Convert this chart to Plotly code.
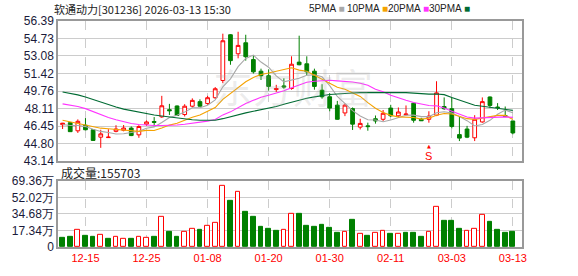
import plotly.graph_objects as go

# ---------------- data ----------------
dates = [
    "2025-12-10", "2025-12-11", "2025-12-12", "2025-12-15", "2025-12-16", "2025-12-17", "2025-12-18", "2025-12-19",
    "2025-12-22", "2025-12-23", "2025-12-24", "2025-12-25", "2025-12-26", "2025-12-29", "2025-12-30", "2025-12-31",
    "2026-01-05", "2026-01-06", "2026-01-07", "2026-01-08", "2026-01-09", "2026-01-12", "2026-01-13", "2026-01-14",
    "2026-01-15", "2026-01-16", "2026-01-19", "2026-01-20", "2026-01-21", "2026-01-22", "2026-01-23", "2026-01-26",
    "2026-01-27", "2026-01-28", "2026-01-29", "2026-01-30", "2026-02-02", "2026-02-03", "2026-02-04", "2026-02-05",
    "2026-02-06", "2026-02-09", "2026-02-10", "2026-02-11", "2026-02-12", "2026-02-13", "2026-02-24", "2026-02-25",
    "2026-02-26", "2026-02-27", "2026-03-02", "2026-03-03", "2026-03-04", "2026-03-05", "2026-03-06", "2026-03-09",
    "2026-03-10", "2026-03-11", "2026-03-12", "2026-03-13",
]
open_ = [46.58, 46.77, 46.00, 46.53, 46.10, 45.40, 45.36, 45.95, 46.05, 46.26, 45.62, 46.63, 46.88, 47.32, 48.00,
         48.35, 47.54, 48.33, 48.76, 48.58, 49.13, 50.76, 55.09, 53.29, 54.33, 52.74, 51.64, 51.21, 49.90, 50.25,
         50.00, 52.50, 52.34, 51.64, 49.84, 49.22, 48.43, 47.69, 48.10, 46.35, 46.47, 47.14, 47.09, 48.15, 47.42,
         47.52, 48.61, 47.10, 47.09, 47.48, 48.30, 48.09, 45.64, 46.17, 45.34, 46.84, 49.20, 48.25, 47.45, 46.93]
high = [46.75, 46.80, 47.08, 47.20, 46.15, 46.10, 46.15, 46.53, 46.55, 46.41, 46.53, 46.99, 47.30, 49.31, 48.55,
        48.40, 48.52, 49.07, 48.98, 49.31, 50.14, 55.19, 55.15, 55.37, 55.09, 53.17, 51.88, 51.82, 50.35, 50.97,
        53.05, 55.00, 53.05, 51.88, 50.41, 49.56, 48.83, 48.58, 48.21, 47.14, 46.77, 47.45, 47.97, 48.46, 48.21,
        48.40, 48.65, 47.23, 47.85, 50.69, 49.16, 49.16, 47.32, 46.47, 47.48, 49.16, 49.25, 48.62, 48.30, 46.95]
low = [46.17, 45.90, 45.80, 46.05, 45.05, 44.39, 45.34, 45.86, 45.95, 45.50, 45.34, 46.47, 46.41, 47.23, 47.50,
       47.40, 47.36, 48.21, 48.30, 48.46, 49.01, 50.51, 52.25, 52.86, 52.64, 51.42, 50.81, 49.80, 49.68, 49.98,
       49.89, 52.20, 51.27, 49.89, 49.04, 47.85, 47.05, 47.39, 46.08, 46.13, 46.01, 46.68, 46.93, 47.30, 47.23,
       47.45, 46.77, 46.93, 46.77, 47.39, 47.98, 46.22, 45.03, 45.31, 45.03, 46.77, 48.15, 47.97, 47.30, 45.67]
close = [46.72, 45.92, 46.90, 46.10, 45.09, 45.71, 45.40, 46.17, 46.26, 45.55, 46.41, 46.84, 46.80, 48.37, 47.90,
         47.45, 48.33, 48.88, 48.33, 49.13, 49.98, 54.52, 52.64, 54.08, 53.01, 51.58, 51.21, 50.20, 50.00, 50.15,
         52.30, 52.25, 51.58, 50.20, 49.22, 48.15, 47.09, 48.43, 46.63, 46.70, 46.40, 46.93, 47.66, 47.42, 47.78,
         47.58, 47.00, 46.95, 47.39, 49.59, 48.09, 46.41, 45.31, 45.40, 47.09, 48.76, 48.40, 48.20, 47.35, 45.80]
prev_close_before = 46.90
# volume in 万 (10k lots)
volume = [10.1, 11.1, 17.8, 12.1, 11.1, 12.8, 8.1, 10.8, 8.7, 8.1, 10.8, 10.1, 11.1, 31.9, 16.1, 11.1, 16.1, 18.8,
          18.5, 21.8, 24.9, 64.2, 48.4, 58.1, 37.3, 31.2, 21.2, 19.2, 17.1, 17.8, 34.3, 34.3, 22.2, 21.2, 23.2, 20.2,
          15.1, 16.1, 28.6, 13.8, 12.1, 14.8, 17.1, 14.1, 13.8, 15.1, 15.1, 11.1, 16.1, 42.0, 27.6, 27.6, 19.5, 17.1,
          19.2, 33.9, 26.5, 17.5, 15.1, 15.5703]

# moving-average values at the start of the window (history not shown)
ma5_head = [46.60, 46.50, 46.50, 46.40]
ma10_head = [47.00, 46.85, 46.70, 46.50, 46.35, 46.25, 46.20, 46.15, 46.10]
ma20_head = [48.55, 48.45, 48.30, 48.10, 47.80, 47.50, 47.25, 47.05, 46.85, 46.70, 46.60, 46.52, 46.50, 46.50,
             46.50, 46.55, 46.62, 46.70, 46.80]
ma30_head = [49.68, 49.55, 49.40, 49.20, 48.95, 48.70, 48.45, 48.25, 48.05, 47.90, 47.75, 47.60, 47.50, 47.40,
             47.30, 47.20, 47.10, 47.05, 47.00, 47.00, 47.00, 47.15, 47.35, 47.55, 47.70, 47.85, 48.00, 48.15, 48.30]

price_ticks = [43.14, 44.80, 46.45, 48.11, 49.76, 51.42, 53.08, 54.73, 56.39]
vol_ticks = [0, 17.34, 34.68, 52.02, 69.36]
label_dates = ["2025-12-15", "2025-12-25", "2026-01-08", "2026-01-20", "2026-01-30", "2026-02-11", "2026-03-03", "2026-03-13"]
label_text = ["12-15", "12-25", "01-08", "01-20", "01-30", "02-11", "03-03", "03-13"]
signal_date = "2026-02-26"

title_text = "软通动力[301236] 2026-03-13 15:30"
vol_text = "成交量:155703"


def moving_average(values, n, head):
    out = []
    for i in range(len(values)):
        if i < n - 1:
            out.append(head[i])
        else:
            out.append(sum(values[i - n + 1:i + 1]) / n)
    return out


ma5 = moving_average(close, 5, ma5_head)
ma10 = moving_average(close, 10, ma10_head)
ma20 = moving_average(close, 20, ma20_head)
ma30 = moving_average(close, 30, ma30_head)

prevs = [prev_close_before] + close[:-1]
up_x = [d for d, c, p in zip(dates, close, prevs) if c >= p]
up_v = [v for v, c, p in zip(volume, close, prevs) if c >= p]
dn_x = [d for d, c, p in zip(dates, close, prevs) if c < p]
dn_v = [v for v, c, p in zip(volume, close, prevs) if c < p]

# ---------------- layout geometry ----------------
W, H = 578, 276
ML, MR, MT, MB = 56, 56, 21, 21
PW, PH = W - ML - MR, H - MT - MB


def px2x(px):
    return (px - ML) / PW


def py2y(py):
    return (H - MB - py) / PH


RED = "#ff0000"
GREEN = "#008000"
AXIS_FONT = dict(family="Liberation Sans, Arial, sans-serif", size=12, color="#1a1a3a")

fig = go.Figure()

fig.add_trace(go.Candlestick(
    x=dates, open=open_, high=high, low=low, close=close,
    increasing=dict(line=dict(color=RED, width=1), fillcolor="#ffffff"),
    decreasing=dict(line=dict(color=GREEN, width=1), fillcolor=GREEN),
    whiskerwidth=0, showlegend=False, hoverinfo="skip", xaxis="x", yaxis="y",
))

for vals, col in [(ma5, "#a8a8a8"), (ma10, "#f5a200"), (ma20, "#ff33ff"), (ma30, "#006b33")]:
    fig.add_trace(go.Scatter(x=dates, y=vals, mode="lines", line=dict(color=col, width=1.1),
                             showlegend=False, hoverinfo="skip", xaxis="x", yaxis="y"))

fig.add_trace(go.Bar(x=up_x, y=up_v, width=0.62, marker=dict(color="#ffffff", line=dict(color=RED, width=1)),
                     showlegend=False, hoverinfo="skip", xaxis="x2", yaxis="y2"))
fig.add_trace(go.Bar(x=dn_x, y=dn_v, width=0.62, marker=dict(color=GREEN, line=dict(color=GREEN, width=1)),
                     showlegend=False, hoverinfo="skip", xaxis="x2", yaxis="y2"))

common_x = dict(type="category", categoryorder="array", categoryarray=dates, range=[-0.6, 60.2],
                tickmode="array", tickvals=label_dates, ticktext=label_text,
                showgrid=True, gridcolor="#cccccc", griddash="dash", gridwidth=1,
                showline=True, mirror=True, linecolor="#999999", linewidth=1.5, ticks="",
                rangeslider=dict(visible=False), fixedrange=True, zeroline=False)

fig.update_layout(
    width=W, height=H,
    margin=dict(l=ML, r=MR, t=MT, b=MB),
    paper_bgcolor="#ffffff", plot_bgcolor="#ffffff",
    bargap=0, showlegend=False,
    xaxis=dict(**common_x, domain=[0, 1], anchor="y", showticklabels=False),
    xaxis2=dict(**common_x, domain=[0, 1], anchor="y2", matches="x", showticklabels=True,
                tickfont=dict(family="Liberation Sans, Arial, sans-serif", size=11, color=RED)),
    yaxis=dict(domain=[py2y(166), 1], range=[43.14, 56.39], tickmode="array", tickvals=price_ticks,
               ticktext=[f"{v:.2f}" for v in price_ticks], showgrid=True, gridcolor="#cccccc",
               showline=True, mirror=True, linecolor="#999999", linewidth=1.5, ticks="",
               tickfont=AXIS_FONT, zeroline=False, fixedrange=True),
    yaxis2=dict(domain=[0, py2y(186.5)], range=[0, 69.36], tickmode="array", tickvals=vol_ticks,
                ticktext=["0"] + [f"{v:.2f}万" for v in vol_ticks[1:]], showgrid=True, gridcolor="#cccccc",
                showline=True, mirror=True, linecolor="#999999", linewidth=1.5, ticks="",
                tickfont=AXIS_FONT, zeroline=False, fixedrange=True),
)

ann = []
ann.append(dict(text=title_text, x=px2x(50), y=py2y(8.5), xref="paper", yref="paper", xanchor="left",
                yanchor="middle", showarrow=False,
                font=dict(family="Noto Sans CJK SC, sans-serif", size=11, color="#222222")))
legend_items = [("5PMA", "#a8a8a8", 306), ("10PMA", "#f5a200", 344), ("20PMA", "#ff33ff", 385),
                ("30PMA", "#006b33", 427)]
for name, col, xp in legend_items:
    ann.append(dict(text=f"{name} <span style='color:{col}'>■</span>", x=px2x(xp), y=py2y(8.5),
                    xref="paper", yref="paper", xanchor="left", yanchor="middle", showarrow=False,
                    font=dict(family="Liberation Sans, Arial, sans-serif", size=10, color="#222222")))
ann.append(dict(text=vol_text, x=px2x(57), y=py2y(177.5), xref="paper", yref="paper", xanchor="left",
                yanchor="middle", showarrow=False,
                font=dict(family="Noto Sans CJK SC, sans-serif", size=12, color="#222222")))
ann.append(dict(text="东方财富", x=px2x(292), y=py2y(88), xref="paper", yref="paper", xanchor="center",
                yanchor="middle", showarrow=False,
                font=dict(family="Noto Sans CJK SC, sans-serif", size=40, color="rgba(170,170,170,0.22)")))
ann.append(dict(text="S", x=signal_date, y=43.60, xref="x", yref="y", xanchor="center", yanchor="middle",
                showarrow=False, font=dict(family="Liberation Sans, Arial, sans-serif", size=11, color=RED)))
ann.append(dict(text="▲", x=signal_date, y=44.55, xref="x", yref="y", xanchor="center", yanchor="middle",
                showarrow=False, font=dict(family="DejaVu Sans, sans-serif", size=5, color=RED)))
fig.update_layout(annotations=ann)

fig.write_html("out.html")
